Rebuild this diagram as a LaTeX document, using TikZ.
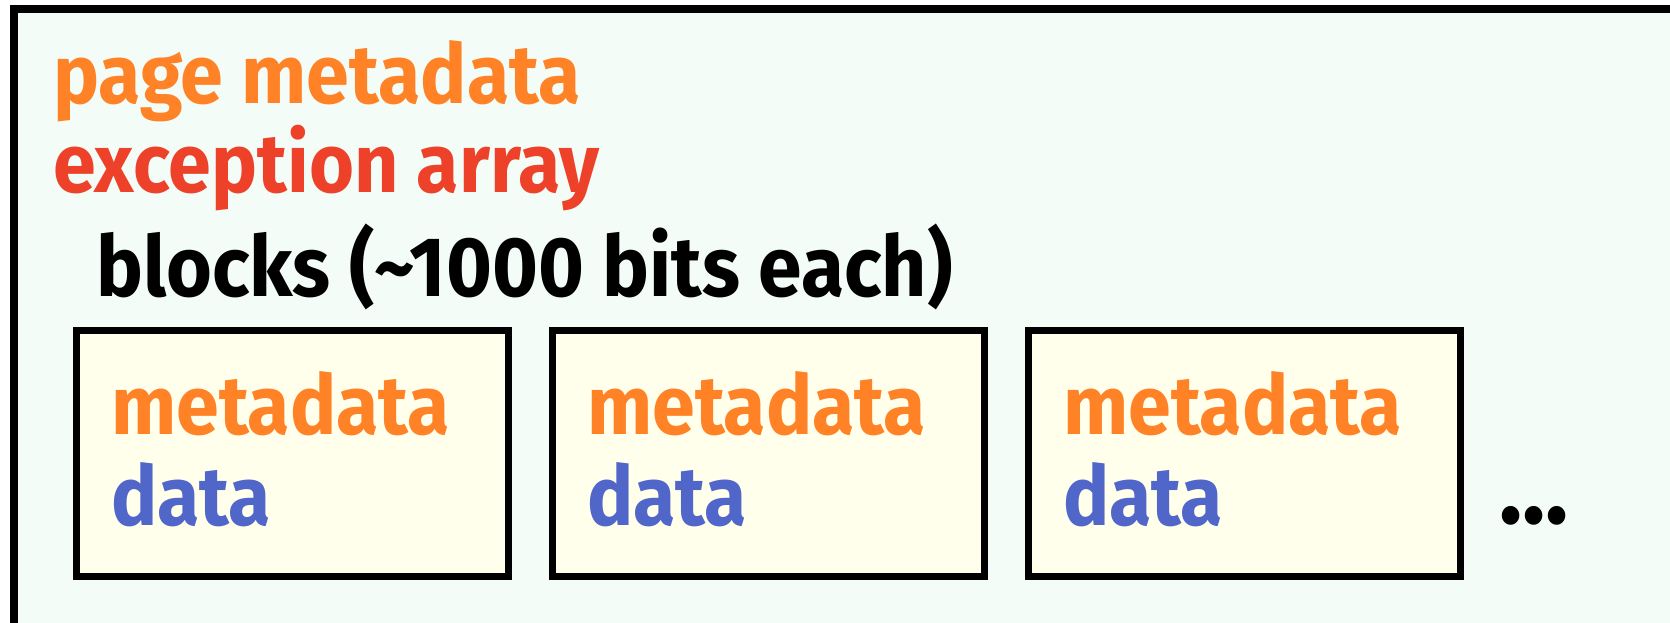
\documentclass[tikz,border=0pt]{standalone}
\usepackage{fontspec}
\usetikzlibrary{calc}
\setmainfont{Fira Sans}[FakeStretch=0.93]
\definecolor{pagebg}{HTML}{F3FCF7}
\definecolor{blockbg}{HTML}{FFFFEC}
\definecolor{metaorange}{HTML}{FF8226}
\definecolor{excred}{HTML}{EE4129}
\definecolor{datablue}{HTML}{5066C9}
\tikzset{
  lbl/.style={anchor=base west, inner sep=0pt, font=\fontsize{83}{96}\selectfont\bfseries},
  blockbox/.style={draw=black, line width=7pt, fill=blockbg, minimum width=432pt, minimum height=246pt, inner sep=0pt},
}
\begin{document}
\begin{tikzpicture}[x=1pt,y=-1pt]
  \useasboundingbox (0,0) rectangle (1670,622);
  \clip (0,0) rectangle (1670,622);
  \fill[white] (0,0) rectangle (1670,622);
  % page frame, running off the right and bottom edges
  \draw[line width=8pt, fill=pagebg] (14,9) rectangle (1720,680);
  % page-level labels
  \node[lbl, text=metaorange] (pmeta) at (53,103) {page metadata};
  \node[lbl, text=excred] (exc) at (53,192) {exception array};
  \node[lbl, text=black, font=\fontsize{84.5}{96}\selectfont\bfseries] (blk) at (96,296) {blocks ({\char"7E}1000 bits each)};
  % blocks
  \foreach \i/\x in {1/292.5, 2/768.5, 3/1244.5} {
    \node[blockbox] (b\i) at (\x,453.5) {};
    \node[lbl, text=metaorange] (m\i) at ($(b\i.west)+(38,-19)$) {metadata};
    \node[lbl, text=datablue] (d\i) at ($(b\i.west)+(38,71.5)$) {data};
  }
  \node[lbl, text=black, font=\fontsize{104}{120}\selectfont\bfseries] (more) at (1499,523) {...};
\end{tikzpicture}
\end{document}
